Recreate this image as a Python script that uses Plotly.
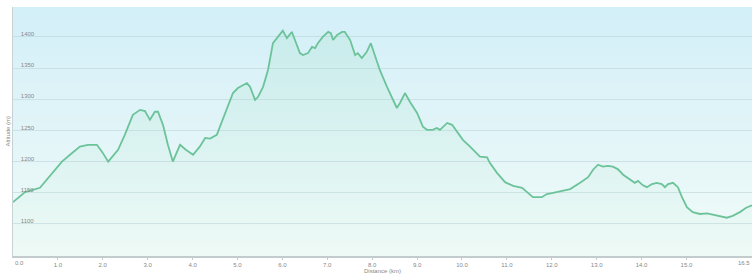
import base64, struct, zlib
import plotly.graph_objects as go

# ---- data ----
distance_km = [
    0.00, 0.27, 0.60, 0.94, 1.09, 1.27, 1.49, 1.67, 1.87, 2.00, 2.12, 2.34, 2.49, 2.67,
    2.83, 2.94, 3.05, 3.16, 3.23, 3.34, 3.45, 3.56, 3.72, 3.85, 4.01, 4.16, 4.28, 4.39,
    4.54, 4.61, 4.90, 5.01, 5.21, 5.28, 5.39, 5.46, 5.57, 5.68, 5.79, 5.90, 6.01, 6.10,
    6.21, 6.28, 6.39, 6.46, 6.57, 6.66, 6.73, 6.79, 6.90, 7.02, 7.08, 7.13, 7.22, 7.33,
    7.39, 7.51, 7.62, 7.68, 7.77, 7.88, 7.97, 8.02, 8.17, 8.33, 8.46, 8.55, 8.62, 8.73,
    8.84, 9.00, 9.13, 9.22, 9.35, 9.44, 9.51, 9.67, 9.78, 9.89, 10.02, 10.18, 10.40,
    10.56, 10.62, 10.78, 10.96, 11.14, 11.34, 11.45, 11.58, 11.78, 11.89, 12.03, 12.23,
    12.41, 12.63, 12.81, 12.92, 13.03, 13.14, 13.25, 13.36, 13.47, 13.59, 13.74, 13.85,
    13.92, 14.03, 14.12, 14.23, 14.34, 14.45, 14.52, 14.59, 14.70, 14.81, 14.90, 15.01,
    15.14, 15.30, 15.46, 15.66, 15.90, 16.03, 16.19, 16.33, 16.46,
]
altitude_m = [
    1135, 1151, 1158, 1187, 1200, 1211, 1224, 1227, 1227, 1214, 1200, 1219, 1243, 1275,
    1283, 1281, 1267, 1280, 1280, 1259, 1227, 1200, 1227, 1219, 1211, 1224, 1238, 1237,
    1243, 1256, 1310, 1318, 1326, 1320, 1299, 1304, 1320, 1347, 1390, 1400, 1410, 1398,
    1408, 1395, 1374, 1371, 1374, 1384, 1382, 1390, 1400, 1408, 1406, 1395, 1403, 1408,
    1408, 1395, 1371, 1374, 1366, 1376, 1390, 1379, 1347, 1320, 1299, 1286, 1294, 1310,
    1296, 1278, 1256, 1251, 1251, 1254, 1251, 1262, 1259, 1248, 1235, 1224, 1208,
    1207, 1198, 1182, 1167, 1161, 1158, 1151, 1143, 1143, 1148, 1150, 1153,
    1156, 1166, 1175, 1187, 1195, 1192, 1193, 1192, 1188, 1179, 1171, 1166,
    1169, 1162, 1159, 1164, 1166, 1164, 1159, 1164, 1166, 1159, 1143, 1127,
    1119, 1116, 1117, 1114, 1110, 1113, 1119, 1126, 1130,
]

x_tick_values = [0, 1, 2, 3, 4, 5, 6, 7, 8, 9, 10, 11, 12, 13, 14, 15, 16.46]
x_tick_labels = ["0.0", "1.0", "2.0", "3.0", "4.0", "5.0", "6.0", "7.0", "8.0",
                 "9.0", "10.0", "11.0", "12.0", "13.0", "14.0", "15.0", "16.5"]
y_tick_values = [1100, 1150, 1200, 1250, 1300, 1350, 1400]

X_RANGE = [0, 16.46]
Y_RANGE = [1048.6, 1448]

# ---- vertical gradient background as a tiny PNG ----
def gradient_png(top, bottom, n=64):
    rows = b""
    for i in range(n):
        t = i / (n - 1)
        rgb = bytes(int(round(top[k] + (bottom[k] - top[k]) * t)) for k in range(3))
        rows += b"\x00" + rgb
    def chunk(tag, data):
        c = struct.pack(">I", len(data)) + tag + data
        return c + struct.pack(">I", zlib.crc32(tag + data) & 0xffffffff)
    png = b"\x89PNG\r\n\x1a\n"
    png += chunk(b"IHDR", struct.pack(">IIBBBBB", 1, n, 8, 2, 0, 0, 0))
    png += chunk(b"IDAT", zlib.compress(rows))
    png += chunk(b"IEND", b"")
    return "data:image/png;base64," + base64.b64encode(png).decode()

bg_src = gradient_png((211, 239, 248), (241, 251, 248))

FONT = "Liberation Sans"
LINE_COLOR = "#6cc39a"
LABEL_COLOR = "#888888"

fig = go.Figure()
fig.add_trace(go.Scatter(
    x=distance_km, y=altitude_m, mode="lines",
    line=dict(color=LINE_COLOR, width=1.8, shape="linear"),
    fill="tozeroy",
    fillgradient=dict(type="vertical", start=Y_RANGE[0], stop=1410,
                      colorscale=[[0, "rgba(140,220,170,0.03)"], [1, "rgba(120,210,160,0.14)"]]),
    hoverinfo="skip", showlegend=False,
))

# inner tick labels drawn by the axis; the two edge labels are kept inside the chart
inner_text = [""] + x_tick_labels[1:-1] + [""]

annotations = [
    dict(text="Distance (km)", xref="paper", yref="paper", x=0.5, y=-0.06,
         xanchor="center", yanchor="middle", showarrow=False,
         font=dict(size=6, color=LABEL_COLOR)),
    dict(text="Altitude (m)", xref="paper", yref="paper", x=-0.008, y=0.5,
         xanchor="center", yanchor="middle", textangle=-90, showarrow=False,
         font=dict(size=6, color=LABEL_COLOR)),
    dict(text=x_tick_labels[0], xref="x", yref="paper", x=x_tick_values[0], y=-0.028,
         xanchor="left", yanchor="middle", showarrow=False,
         font=dict(size=6, color=LABEL_COLOR)),
    dict(text=x_tick_labels[-1], xref="x", yref="paper", x=x_tick_values[-1], y=-0.028,
         xanchor="right", yanchor="middle", showarrow=False,
         font=dict(size=6, color=LABEL_COLOR)),
]

fig.update_layout(
    width=752, height=278,
    margin=dict(l=13, r=0, t=7, b=22, autoexpand=False),
    paper_bgcolor="white", plot_bgcolor="white",
    font=dict(family=FONT, size=6, color=LABEL_COLOR),
    images=[dict(source=bg_src, xref="paper", yref="paper", x=0, y=1,
                 sizex=1, sizey=1, sizing="stretch", xanchor="left", yanchor="top",
                 layer="below")],
    xaxis=dict(range=X_RANGE, tickvals=x_tick_values, ticktext=inner_text,
               showgrid=False, zeroline=False, showline=True, linecolor="#c3cccc",
               linewidth=1.5, ticks="outside", ticklen=2, tickcolor="#c3cccc",
               tickfont=dict(size=6, color=LABEL_COLOR), automargin=False),
    yaxis=dict(range=Y_RANGE, tickvals=y_tick_values, showgrid=True,
               gridcolor="rgba(185,210,215,0.55)", gridwidth=1, zeroline=False,
               showline=True, linecolor="#c8d2d4", linewidth=1,
               ticks="", ticklabelposition="inside", ticklabelstandoff=6,
               ticklabelshift=-3,
               tickfont=dict(size=6, color=LABEL_COLOR), automargin=False),
    annotations=annotations,
)

fig.write_html("out.html", config={"displayModeBar": False},
               post_script="document.body.style.margin='0';")
